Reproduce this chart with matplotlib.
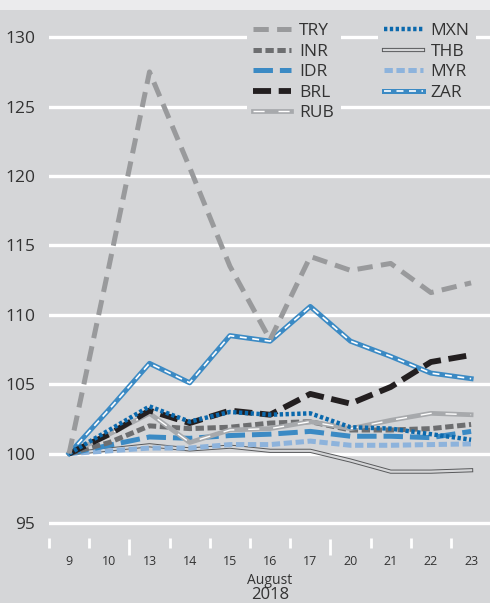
import matplotlib
matplotlib.use("Agg")
import matplotlib.pyplot as plt
from matplotlib.patches import Rectangle
from matplotlib.ticker import FixedLocator, NullFormatter

days = ["9", "10", "13", "14", "15", "16", "17", "20", "21", "22", "23"]
month_label = "August"
year_label = "2018"

TRY = [100, 113.6, 127.5, 120.6, 113.5, 108.2, 114.2, 113.2, 113.7, 111.6, 112.3]
INR = [100, 100.8, 102.0, 101.8, 101.9, 102.2, 102.3, 101.7, 101.7, 101.8, 102.1]
IDR = [100, 100.6, 101.2, 101.1, 101.3, 101.4, 101.6, 101.25, 101.25, 101.15, 101.6]
BRL = [100, 101.4, 103.1, 102.2, 103.1, 102.8, 104.3, 103.6, 104.8, 106.6, 107.1]
RUB = [100, 101.4, 102.9, 100.8, 101.7, 101.8, 102.3, 101.8, 102.4, 102.9, 102.8]
MXN = [100, 101.7, 103.4, 102.3, 103.0, 102.8, 102.9, 101.9, 101.8, 101.4, 101.0]
THB = [100, 100.3, 100.6, 100.3, 100.5, 100.2, 100.2, 99.5, 98.7, 98.7, 98.8]
MYR = [100, 100.2, 100.4, 100.4, 100.65, 100.65, 100.9, 100.6, 100.6, 100.65, 100.7]
ZAR = [100, 103.2, 106.5, 105.1, 108.5, 108.1, 110.6, 108.1, 107.0, 105.8, 105.4]

yticks = [95, 100, 105, 110, 115, 120, 125, 130]

BG = "#d5d6d8"
TOP = "#ebebed"
plt.rcParams["font.family"] = ["Open Sans", "DejaVu Sans"]
plt.rcParams["lines.scale_dashes"] = False

W, H = 490, 603
fig = plt.figure(figsize=(W / 100, H / 100), dpi=100, facecolor=BG)
fig.patches.append(Rectangle((0, 1 - 10 / H), 1, 10 / H, transform=fig.transFigure,
                             facecolor=TOP, edgecolor="none", zorder=0))

ax_left, ax_right, ax_top, ax_bot = 49, 490, 10, 538
ax = fig.add_axes([ax_left / W, 1 - ax_bot / H, (ax_right - ax_left) / W, (ax_bot - ax_top) / H])
ax.set_facecolor(BG)
for s in ax.spines.values():
    s.set_visible(False)

px_per_unit = 69.4 / 5
y100 = 453.6
ax.set_ylim(100 - (ax_bot - y100) / px_per_unit, 100 + (y100 - ax_top) / px_per_unit)
ax.set_xlim(-0.5, 10.47)

x = list(range(len(days)))
ax.set_yticks(yticks)
ax.set_yticklabels([str(v) for v in yticks], fontsize=12.5, color="#333333")
ax.tick_params(axis="y", length=0, pad=10)
for v in yticks:
    ax.axhline(v, color="white", lw=2.4, zorder=1)

ax.set_xticks(x)
ax.set_xticklabels(days, fontsize=9, color="#333333")
ax.tick_params(axis="x", which="major", length=0, pad=12)
minor = [i - 0.5 for i in range(len(days))]
short = [m for m in minor if m not in (1.5, 6.5)]
ax.xaxis.set_minor_locator(FixedLocator(short))
ax.xaxis.set_minor_formatter(NullFormatter())
ax.tick_params(axis="x", which="minor", length=7.5, width=2, color="white", direction="out")
for xb in (1.5, 6.5):
    ax.plot([xb, xb], [-0.002, -0.033], transform=ax.get_xaxis_transform(), color="white",
            lw=2, clip_on=False, solid_capstyle="butt")

def dline(y, color, lw, dashes, z):
    ln, = ax.plot(x, y, color=color, lw=lw, dashes=dashes, zorder=z,
                  dash_capstyle="butt", solid_joinstyle="miter")
    return ln

thb_o, = ax.plot(x, THB, color="#58595b", lw=3.0, zorder=3)
thb_i, = ax.plot(x, THB, color=BG, lw=1.6, zorder=3.01)
myr = dline(MYR, "#8db3dc", 3.6, (6, 2.6), 4)
idr = dline(IDR, "#3b8ac4", 3.6, (14, 5), 5)
inr = dline(INR, "#6d6e70", 3.6, (6, 2.6), 6)
rub_o, = ax.plot(x, RUB, color="#a7a9ac", lw=3.4, zorder=7)
rub_i, = ax.plot(x, RUB, color="white", lw=1.0, dashes=(8, 10), zorder=7.01)
zar_o, = ax.plot(x, ZAR, color="#3b8ac4", lw=3.6, zorder=8)
zar_i, = ax.plot(x, ZAR, color="white", lw=1.2, dashes=(5, 4), zorder=8.01)
brl = dline(BRL, "#231f20", 4.2, (13, 5.5), 9)
mxn = dline(MXN, "#0b69ad", 3.2, (2.4, 1.8), 10)
tr = dline(TRY, "#999a9c", 3.6, (11, 6), 11)

handles = [tr, inr, idr, brl, (rub_o, rub_i), mxn, (thb_o, thb_i), myr, (zar_o, zar_i)]
labels = ["TRY", "INR", "IDR", "BRL", "RUB", "MXN", "THB", "MYR", "ZAR"]
fs = 12.5
hl, htp = 2.2, 0.45
leg = fig.legend(handles, labels, loc="upper left", bbox_to_anchor=(248 / W, 1 - 18 / H),
                 ncol=2, frameon=False,
                 fontsize=fs, handlelength=hl, handletextpad=htp, columnspacing=2.9,
                 labelspacing=0.25, borderpad=0.3, borderaxespad=0)
leg.set_zorder(6)
for t in leg.get_texts():
    t.set_color("#333333")

# background blocks behind legend columns (cover gridlines there)
fig.canvas.draw()
r = fig.canvas.get_renderer()
texts = leg.get_texts()
fs_px = fs * 100 / 72
for grp in (texts[:5], texts[5:]):
    bbs = [t.get_window_extent(r) for t in grp]
    x0 = min(b.x0 for b in bbs) - (hl + htp) * fs_px - 6
    x1 = max(b.x1 for b in bbs) + 7
    y0 = min(b.y0 for b in bbs) - 2
    y1 = max(b.y1 for b in bbs) + 2
    fig.add_artist(Rectangle((x0 / W, y0 / H), (x1 - x0) / W, (y1 - y0) / H,
                             transform=fig.transFigure, facecolor=BG, edgecolor="none",
                             zorder=5))

cx = (ax.transData.transform((5, 0))[0]) / W
fig.text(cx, 1 - 580 / H, month_label, ha="center", va="center", fontsize=10, color="#333333")
fig.text(cx, 1 - 595 / H, year_label, ha="center", va="center", fontsize=12, color="#333333")

fig.savefig("out.png", dpi=100, facecolor=BG)
